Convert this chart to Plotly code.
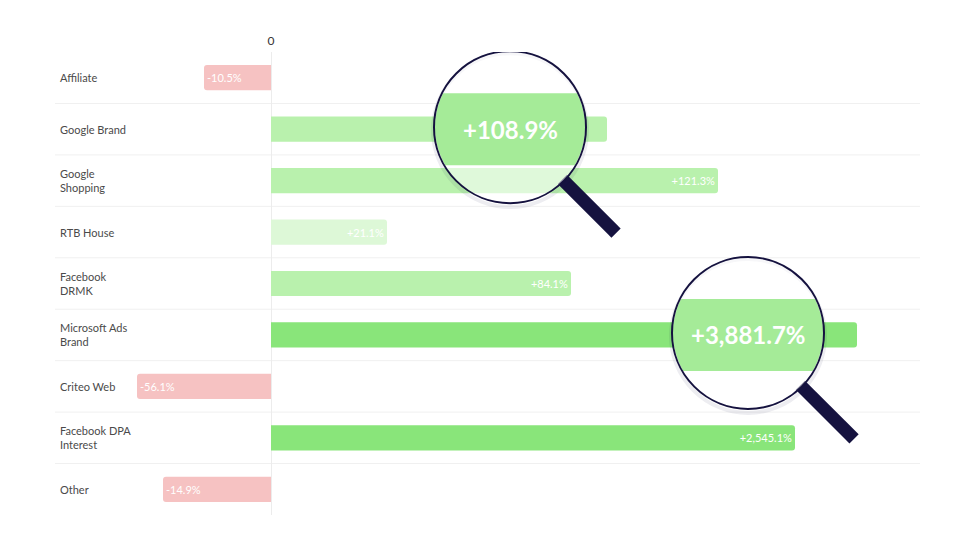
import numpy as np
import plotly.graph_objects as go

# channels top to bottom
channels = ["Affiliate", "Google Brand", "Google Shopping", "RTB House", "Facebook DRMK",
            "Microsoft Ads Brand", "Criteo Web", "Facebook DPA Interest", "Other"]
channel_labels = ["Affiliate", "Google Brand", "Google<br>Shopping", "RTB House", "Facebook<br>DRMK",
                  "Microsoft Ads<br>Brand", "Criteo Web", "Facebook DPA<br>Interest", "Other"]
change_pct = [-10.5, 108.9, 121.3, 21.1, 84.1, 3881.7, -56.1, 2545.1, -14.9]
# bar lengths as drawn in the original (they are not to scale with change_pct)
bar_length = [-67, 336, 447, 116, 300, 586, -134, 524, -108]

# bars shown under a magnifier: (channel, lens centre on x axis)
zoomed = [("Google Brand", 239), ("Microsoft Ads Brand", 477)]

bar_colors = ["#f6c2c2", "#b9f1ad", "#b9f1ad", "#ddf8d7", "#b9f1ad",
              "#89e57a", "#f6c2c2", "#89e57a", "#f6c2c2"]

# page body adds 8px around the figure
W, H = 964, 535
ML, MR, MT, MB = 47, 52, 44, 27.75
XMIN, XMAX = -216, 649
step = (H - MT - MB) / len(channels)
zoomed_names = [z[0] for z in zoomed]

text = []
for name, v in zip(channels, change_pct):
    text.append("" if name in zoomed_names else f"{v:+,.1f}%")

fig = go.Figure()
fig.add_trace(go.Bar(
    y=channels, x=bar_length, orientation="h",
    marker=dict(color=bar_colors, cornerradius=3, line=dict(width=0)),
    width=0.49,
    text=text, textposition="inside", insidetextanchor="end",
    textfont=dict(family="Lato", size=11, color="white"),
    textangle=0, hoverinfo="skip", showlegend=False,
))
# invisible trace so the pixel overlay axes exist
fig.add_trace(go.Scatter(x=[ML], y=[MT], xaxis="x2", yaxis="y2", mode="markers",
                         marker=dict(opacity=0), hoverinfo="skip", showlegend=False))

shapes = []
for i in range(len(channels) - 1):
    shapes.append(dict(type="line", xref="paper", yref="y", x0=0, x1=1, y0=i + 0.5, y1=i + 0.5,
                       line=dict(color="#f0f0f0", width=1), layer="below"))

annotations = []
for i, lab in enumerate(channel_labels):
    annotations.append(dict(xref="paper", yref="y", x=0, y=channels[i], text=lab, showarrow=False,
                            xanchor="left", xshift=3, align="left",
                            font=dict(family="Lato", size=11, color="#4a4a4a")))

r = 76
band_half = 36
u = np.array([np.cos(np.pi / 4), np.sin(np.pi / 4)])
for name, xc in zoomed:
    i = channels.index(name)
    row_y = MT + (i + 0.5) * step
    cx = xc - XMIN + ML
    cy = row_y - 2
    # handle
    p0 = np.array([cx, cy]) + u * (r - 2)
    p1 = np.array([cx, cy]) + u * (r + 74)
    shapes.append(dict(type="line", xref="x2", yref="y2", x0=p0[0], y0=p0[1], x1=p1[0], y1=p1[1],
                       line=dict(color="#15123f", width=13)))
    # soft shadow
    shapes.append(dict(type="circle", xref="x2", yref="y2", x0=cx - r - 1, x1=cx + r + 1,
                       y0=cy - r + 2, y1=cy + r + 4, line=dict(color="rgba(30,30,80,0.08)", width=4)))
    # lens glass
    shapes.append(dict(type="circle", xref="x2", yref="y2", x0=cx - r, x1=cx + r, y0=cy - r, y1=cy + r,
                       fillcolor="rgba(255,255,255,0.55)", line=dict(width=0)))
    # magnified bar, clipped to the lens
    yt, yb = row_y - band_half, row_y + band_half
    ys = np.linspace(yt, yb, 40)
    hw = np.sqrt(np.clip(r ** 2 - (ys - cy) ** 2, 0, None)) - 1
    pts = [(cx - w, y) for y, w in zip(ys, hw)] + [(cx + w, y) for y, w in zip(ys[::-1], hw[::-1])]
    path = "M " + " L ".join(f"{x:.2f},{y:.2f}" for x, y in pts) + " Z"
    shapes.append(dict(type="path", xref="x2", yref="y2", path=path,
                       fillcolor="#a5eb98", line=dict(width=0)))
    # lens rim
    shapes.append(dict(type="circle", xref="x2", yref="y2", x0=cx - r, x1=cx + r, y0=cy - r, y1=cy + r,
                       line=dict(color="#15123f", width=2)))
    annotations.append(dict(xref="x2", yref="y2", x=cx, y=row_y,
                            text="<b>" + f"{change_pct[i]:+,.1f}%" + "</b>", showarrow=False,
                            font=dict(family="Lato", size=24, color="white")))

fig.update_layout(
    width=W, height=H,
    margin=dict(l=ML, r=MR, t=MT, b=MB),
    paper_bgcolor="white", plot_bgcolor="white",
    bargap=0.5,
    xaxis=dict(range=[XMIN, XMAX], side="top", tickvals=[0], ticktext=["0"], ticks="",
               ticklabelstandoff=4,
               showgrid=False, zeroline=True, zerolinecolor="#ececec", zerolinewidth=1,
               showline=False, tickfont=dict(family="Lato", size=12, color="#333333"), fixedrange=True),
    yaxis=dict(categoryorder="array", categoryarray=channels, autorange="reversed",
               showticklabels=False, showgrid=False, zeroline=False, ticks="", fixedrange=True),
    xaxis2=dict(overlaying="x", range=[ML, W - MR], visible=False, anchor="y2"),
    yaxis2=dict(overlaying="y", range=[H - MB, MT], visible=False, anchor="x2"),
    shapes=shapes,
    annotations=annotations,
    showlegend=False,
)

fig.write_html("out.html")
